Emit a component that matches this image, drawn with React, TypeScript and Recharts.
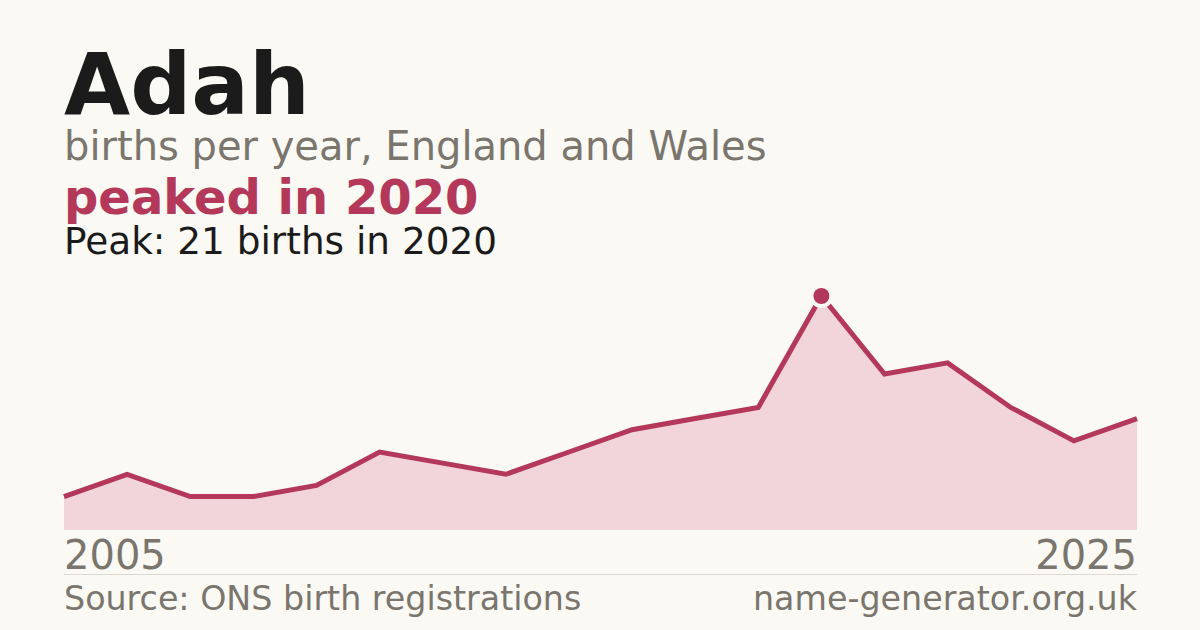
import React from "react";
import { AreaChart, Area, XAxis, YAxis } from "recharts";

const years = [2005, 2006, 2007, 2008, 2009, 2010, 2011, 2012, 2014, 2016, 2018, 2019, 2020, 2021, 2022, 2023, 2024, 2025];
const births = [3, 5, 3, 3, 4, 7, 6, 5, 7, 9, 10, 11, 21, 14, 15, 11, 8, 10];

const nameTitle = "Adah";
const subtitle = "births per year, England and Wales";
const headline = "peaked in 2020";
const peakText = "Peak: 21 births in 2020";
const sourceText = "Source: ONS birth registrations";
const siteText = "name-generator.org.uk";

const data = years.map((y, i) => ({ year: y, births: births[i] }));
const peakValue = Math.max(...births);
const peakIdx = births.indexOf(peakValue);

const BG = "#faf9f4";
const CRIMSON = "#b3385a";
const FILL = "#f1d5db";
const GREY = "#7a756d";
const DARK = "#1b1b1b";
const FONT = "'DejaVu Sans', sans-serif";

const PeakDot = (props: any) => {
  const { cx, cy, index } = props;
  if (index !== peakIdx) return <g key={`d${index}`} />;
  return (
    <g key={`d${index}`}>
      <circle cx={cx} cy={cy} r={12} fill={BG} />
      <circle cx={cx} cy={cy} r={8} fill={CRIMSON} />
    </g>
  );
};

export default function App() {
  return (
    <div style={{ position: "absolute", left: 0, top: 0, width: 1200, height: 630, background: BG, overflow: "hidden" }}>
      <AreaChart
        width={1200}
        height={630}
        data={data}
        margin={{ top: 296, right: 63, bottom: 100, left: 64 }}
      >
        <XAxis dataKey="year" hide />
        <YAxis hide domain={[0, peakValue]} />
        <Area
          type="linear"
          dataKey="births"
          stroke={CRIMSON}
          strokeWidth={5}
          fill={FILL}
          fillOpacity={1}
          dot={PeakDot}
          activeDot={false}
          isAnimationActive={false}
        />
      </AreaChart>
      <svg width={1200} height={630} style={{ position: "absolute", left: 0, top: 0, pointerEvents: "none" }}>
        <text x={64} y={114} fontFamily={FONT} fontWeight="bold" fontSize={85.5} fill={DARK}>{nameTitle}</text>
        <text x={64} y={160} fontFamily={FONT} fontSize={40} fill={GREY}>{subtitle}</text>
        <text x={64} y={214} fontFamily={FONT} fontWeight="bold" fontSize={48} fill={CRIMSON}>{headline}</text>
        <text x={64} y={254} fontFamily={FONT} fontSize={37.4} fill={DARK}>{peakText}</text>
        <text x={64} y={569} fontFamily={FONT} fontSize={40} fill={GREY}>{String(years[0])}</text>
        <text x={1137} y={569} fontFamily={FONT} fontSize={40} fill={GREY} textAnchor="end">{String(years[years.length - 1])}</text>
        <line x1={64} x2={1137} y1={574.5} y2={574.5} stroke="#dcd9d2" strokeWidth={1} />
        <text x={64} y={610} fontFamily={FONT} fontSize={33.3} fill={GREY}>{sourceText}</text>
        <text x={1137} y={610} fontFamily={FONT} fontSize={33.3} fill={GREY} textAnchor="end">{siteText}</text>
      </svg>
    </div>
  );
}
